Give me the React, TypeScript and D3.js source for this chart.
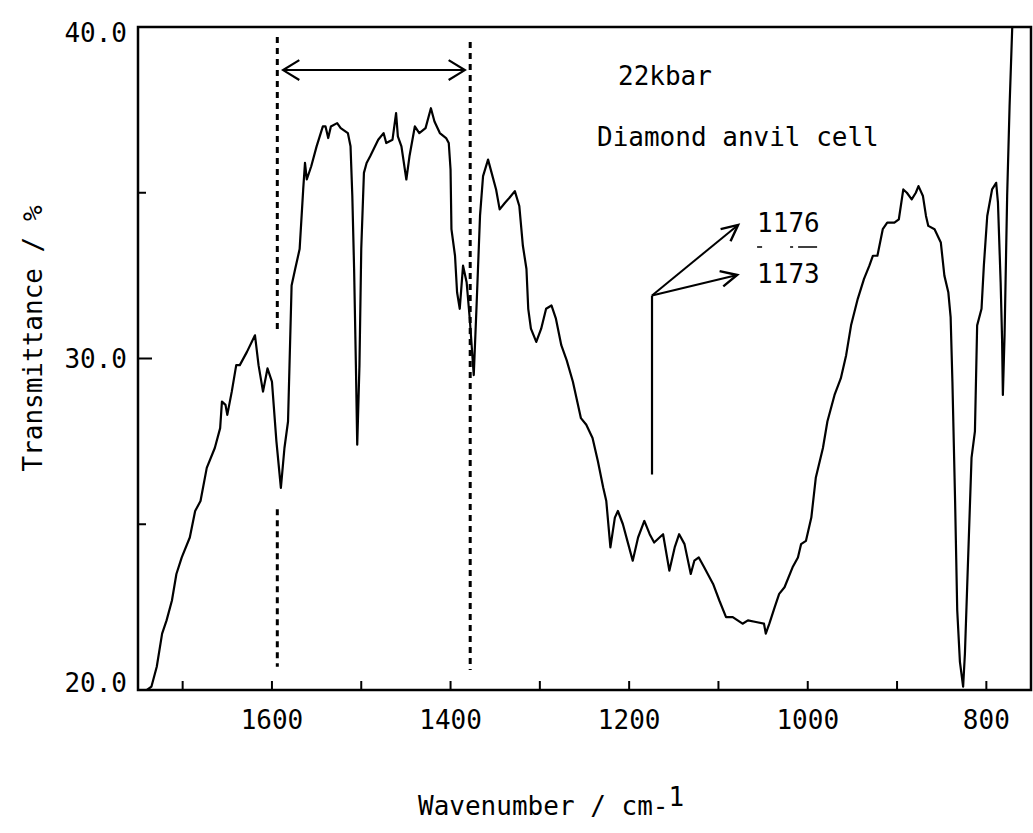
import React from "react";
import * as d3 from "d3";

// Spectrum: wavenumber (cm-1) and transmittance (%)
const wavenumbers = [
  1740, 1735, 1729, 1723, 1718, 1712, 1707, 1701, 1692, 1686, 1680, 1673, 1664, 1658, 1656, 1652, 1650, 1645, 1640, 1636,
  1628, 1619, 1615, 1610, 1605, 1600, 1595, 1590, 1586, 1582, 1578, 1574, 1569, 1565, 1563, 1561, 1556, 1550, 1543, 1540,
  1537, 1534, 1527, 1523, 1515, 1512, 1510, 1508, 1506, 1504.5, 1502, 1500, 1497, 1494, 1490, 1481, 1475, 1472, 1465, 1461,
  1459, 1455, 1449.5, 1446, 1440, 1435, 1428, 1422, 1418, 1412, 1405, 1402, 1400, 1399, 1395, 1392.7, 1389.7, 1386, 1382, 1378.5,
  1374, 1371, 1367, 1363.6, 1358, 1354, 1349, 1345, 1339, 1334, 1328, 1323, 1319, 1315, 1313, 1310, 1304, 1298.5, 1293, 1287,
  1282, 1276, 1270, 1263, 1254, 1248, 1241, 1235, 1229, 1225.6, 1221, 1216, 1212.6, 1207, 1201, 1196, 1190, 1183, 1177, 1172,
  1166, 1162, 1155, 1149, 1144, 1138, 1131, 1127, 1122, 1116, 1106, 1099, 1091.5, 1084, 1073, 1067, 1058, 1049, 1047, 1043,
  1037, 1032, 1026, 1017, 1011, 1007.5, 1002, 996, 991, 983, 978, 970, 963, 957, 951.5, 944, 937, 931, 927, 922,
  916, 911, 903, 898, 893, 889, 883.6, 879, 876, 871, 867.6, 865, 858, 851, 847, 842.6, 840, 838, 835, 832.6,
  829.6, 826, 824, 821.5, 816.6, 812.8, 810.3, 805.4, 802.8, 799, 793.6, 789, 787, 784, 782.4, 781.5, 779.6, 776.7, 774, 771,
];
const transmittance = [
  20.0, 20.1, 20.7, 21.7, 22.1, 22.7, 23.5, 24.0, 24.6, 25.4, 25.7, 26.7, 27.3, 27.9, 28.7, 28.6, 28.3, 29.0, 29.8, 29.8,
  30.2, 30.7, 29.8, 29.0, 29.7, 29.3, 27.5, 26.1, 27.3, 28.1, 32.2, 32.7, 33.3, 35.1, 35.9, 35.4, 35.8, 36.4, 37.0, 37.0,
  36.65, 37.0, 37.1, 36.95, 36.8, 36.4, 34.9, 32.7, 29.8, 27.4, 29.8, 33.3, 35.6, 35.9, 36.1, 36.6, 36.8, 36.5, 36.6, 37.4,
  36.7, 36.4, 35.4, 36.1, 37.0, 36.8, 36.95, 37.55, 37.15, 36.8, 36.65, 36.5, 35.7, 33.9, 33.1, 32.0, 31.5, 32.8, 32.3, 31.2,
  29.5, 31.5, 34.3, 35.5, 36.0, 35.6, 35.1, 34.5, 34.7, 34.85, 35.05, 34.6, 33.4, 32.7, 31.5, 30.9, 30.5, 30.9, 31.5, 31.6,
  31.2, 30.4, 29.95, 29.3, 28.2, 28.0, 27.6, 26.9, 26.1, 25.7, 24.3, 25.2, 25.4, 25.0, 24.4, 23.9, 24.6, 25.1, 24.7, 24.45,
  24.6, 24.7, 23.6, 24.3, 24.7, 24.4, 23.5, 23.9, 24.0, 23.7, 23.2, 22.7, 22.2, 22.2, 22.0, 22.1, 22.05, 22.0, 21.7, 22.0,
  22.5, 22.9, 23.1, 23.7, 24.0, 24.4, 24.5, 25.2, 26.4, 27.3, 28.1, 28.9, 29.4, 30.1, 31.0, 31.8, 32.4, 32.8, 33.1, 33.1,
  33.9, 34.1, 34.1, 34.2, 35.1, 35.0, 34.8, 35.0, 35.2, 34.9, 34.3, 34.0, 33.9, 33.5, 32.5, 32.0, 31.25, 29.3, 25.7, 22.4,
  20.85, 20.1, 21.1, 23.1, 27.0, 27.8, 31.0, 31.5, 32.8, 34.3, 35.1, 35.3, 34.7, 32.3, 30.6, 28.9, 30.7, 34.9, 37.6, 40.0,
];

const xMajorTicks = [1600, 1400, 1200, 1000, 800];
const xMinorTicks = [1700, 1500, 1300, 1100, 900];
const yMajorTicks = [40, 30, 20];
const yMinorTicks = [35, 25];
const yTickLabels = ["40.0", "30.0", "20.0"];

// Annotations in data units
const dashedLeftSegments = [[39.7, 30.75], [25.45, 20.7]];
const dashedRightSegments = [[39.55, 20.6]];
const dashedLeftW = 1594;
const dashedRightW = 1378;
const rangeArrow = { w1: 1587.5, w2: 1384, t: 38.7 };
const pointer = { w: 1174.4, tBottom: 26.5, tTop: 31.9 };
const pointerTargets = [
  { w: 1078, t: 34.03 },
  { w: 1079, t: 32.52 },
];
const peakLabels = ["1176", "1173"];

const W = 1033;
const H = 833;
const left = 138, right = 1031, top = 27, bottom = 690;
const FONT = "'DejaVu Sans Mono', 'Liberation Mono', monospace";

export default function App() {
  const x = d3.scaleLinear().domain([1750, 750]).range([left, right]);
  const y = d3.scaleLinear().domain([20, 40]).range([bottom, top]);
  const pts = wavenumbers.map((w, i) => [w, transmittance[i]] as [number, number]);
  const line = d3
    .line<[number, number]>()
    .x((d) => x(d[0]))
    .y((d) => y(d[1]))
    .curve(d3.curveLinear);

  const arrowHead = (x1: number, y1: number, x2: number, y2: number, len: number, ang: number) => {
    const a = Math.atan2(y2 - y1, x2 - x1);
    const p1 = [x2 - len * Math.cos(a - ang), y2 - len * Math.sin(a - ang)];
    const p2 = [x2 - len * Math.cos(a + ang), y2 - len * Math.sin(a + ang)];
    return `M${p1[0]},${p1[1]} L${x2},${y2} L${p2[0]},${p2[1]}`;
  };

  const ax1 = x(rangeArrow.w1), ax2 = x(rangeArrow.w2), ay = y(rangeArrow.t);
  const px = x(pointer.w), pyTop = y(pointer.tTop), pyBot = y(pointer.tBottom);
  const labelX = x(pointerTargets[0].w) + 19;

  return (
    <svg
      width={W}
      height={H}
      style={{ position: "absolute", left: 0, top: 0, background: "#fff", display: "block" }}
      fontFamily={FONT}
    >
      <rect x={0} y={0} width={W} height={H} fill="#fff" />
      {/* frame */}
      <rect x={left} y={top} width={right - left} height={bottom - top} fill="none" stroke="#000" strokeWidth={2.5} />

      {/* x ticks */}
      {xMajorTicks.concat(xMinorTicks).map((t) => (
        <line key={"xt" + t} x1={x(t)} x2={x(t)} y1={bottom} y2={bottom - 9} stroke="#000" strokeWidth={2} />
      ))}
      {xMajorTicks.map((t) => (
        <text key={"xl" + t} x={x(t)} y={729} textAnchor="middle" fontSize={26} fill="#000">
          {t}
        </text>
      ))}

      {/* y ticks */}
      {yMajorTicks.map((t) => (
        <line key={"yt" + t} x1={left} x2={left + 14} y1={y(t)} y2={y(t)} stroke="#000" strokeWidth={2} />
      ))}
      {yMinorTicks.map((t) => (
        <line key={"ym" + t} x1={left} x2={left + 8} y1={y(t)} y2={y(t)} stroke="#000" strokeWidth={2} />
      ))}
      {yMajorTicks.map((t, i) => (
        <text
          key={"yl" + t}
          x={127}
          y={y(t) + (t === 40 ? 15 : t === 20 ? 2 : 9)}
          textAnchor="end"
          fontSize={26}
          fill="#000"
        >
          {yTickLabels[i]}
        </text>
      ))}

      {/* axis titles */}
      <text x={418} y={815} fontSize={26} fill="#000">
        Wavenumber / cm-<tspan dy={-9}>1</tspan>
      </text>
      <text
        transform={`translate(42, ${(205 + 472) / 2}) rotate(-90)`}
        textAnchor="middle"
        fontSize={26}
        fill="#000"
      >
        Transmittance / %
      </text>

      {/* dashed guide lines */}
      {dashedLeftSegments.map((s, i) => (
        <line
          key={"dl" + i}
          x1={x(dashedLeftW)}
          x2={x(dashedLeftW)}
          y1={y(s[0])}
          y2={y(s[1])}
          stroke="#000"
          strokeWidth={3}
          strokeDasharray="6 5"
        />
      ))}
      {dashedRightSegments.map((s, i) => (
        <line
          key={"dr" + i}
          x1={x(dashedRightW)}
          x2={x(dashedRightW)}
          y1={y(s[0])}
          y2={y(s[1])}
          stroke="#000"
          strokeWidth={3}
          strokeDasharray="6 5"
        />
      ))}

      {/* double arrow */}
      <line x1={ax1} x2={ax2} y1={ay} y2={ay} stroke="#000" strokeWidth={2} />
      <path d={arrowHead(ax2, ay, ax1, ay, 19, 0.55)} fill="none" stroke="#000" strokeWidth={2.2} />
      <path d={arrowHead(ax1, ay, ax2, ay, 19, 0.55)} fill="none" stroke="#000" strokeWidth={2.2} />

      {/* spectrum */}
      <path d={line(pts) || ""} fill="none" stroke="#000" strokeWidth={2.2} strokeLinejoin="round" />

      {/* texts */}
      <text x={618} y={85} fontSize={26} fill="#000">22kbar</text>
      <text x={597} y={146} fontSize={26} fill="#000">Diamond anvil cell</text>

      {/* pointer */}
      <line x1={px} x2={px} y1={pyBot} y2={pyTop} stroke="#000" strokeWidth={2.2} />
      {pointerTargets.map((p, i) => (
        <g key={"pt" + i}>
          <line x1={px} y1={pyTop} x2={x(p.w)} y2={y(p.t)} stroke="#000" strokeWidth={2} />
          <path d={arrowHead(px, pyTop, x(p.w), y(p.t), 18, 0.45)} fill="none" stroke="#000" strokeWidth={2.4} />
        </g>
      ))}
      {peakLabels.map((l, i) => (
        <text key={"pl" + i} x={labelX} y={y(pointerTargets[i].t) + 7 + (i === 0 ? 0 : 1)} fontSize={26} fill="#000">
          {l}
        </text>
      ))}
      <line
        x1={labelX}
        x2={labelX + 60}
        y1={247}
        y2={247}
        stroke="#000"
        strokeWidth={1.5}
        strokeDasharray="5 28 3 5 19"
      />
    </svg>
  );
}
